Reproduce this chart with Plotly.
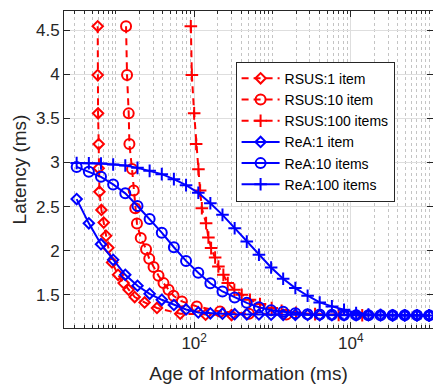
import plotly.graph_objects as go

# Age of Information grid shared by the ReA curves (ms)
aoi_rea = [3.16, 4.52, 6.46, 9.24, 13.2, 18.9, 27.0, 38.6, 55.1, 78.8,
           113, 161, 230, 329, 470, 672, 961, 1370, 1960, 2810,
           4010, 5740, 8200, 11700, 16800, 24000, 34200, 48900, 70000, 100000]

rea_1 = [2.585, 2.31, 2.073, 1.896, 1.726, 1.602, 1.511, 1.443, 1.384, 1.333,
         1.30, 1.29, 1.285, 1.28, 1.278, 1.276, 1.274, 1.273, 1.272, 1.271,
         1.27, 1.27, 1.269, 1.269, 1.268, 1.268, 1.267, 1.267, 1.267, 1.266]
rea_10 = [2.95, 2.894, 2.837, 2.751, 2.65, 2.506, 2.359, 2.204, 2.039, 1.884,
          1.749, 1.63, 1.537, 1.468, 1.408, 1.359, 1.324, 1.306, 1.29, 1.28,
          1.275, 1.272, 1.27, 1.269, 1.268, 1.268, 1.267, 1.267, 1.267, 1.266]
rea_100 = [2.995, 2.992, 2.989, 2.977, 2.966, 2.939, 2.905, 2.868, 2.811, 2.743,
           2.656, 2.538, 2.406, 2.255, 2.103, 1.953, 1.809, 1.681, 1.576, 1.489,
           1.413, 1.368, 1.33, 1.293, 1.276, 1.27, 1.268, 1.267, 1.267, 1.266]

# RSUS curves: (AoI, latency) pairs
rsus_1_x = [5.87, 5.87, 5.93, 6.04, 6.04, 6.17, 6.54, 7.0, 7.5, 8.02,
            8.95, 10.67, 12.57, 14.55, 17.4, 23.3, 33.5, 66.4, 140, 300]
rsus_1_y = [4.545, 3.991, 3.557, 3.209, 2.934, 2.669, 2.462, 2.319, 2.168, 2.032,
            1.866, 1.726, 1.632, 1.557, 1.474, 1.413, 1.35, 1.285, 1.274, 1.27]

rsus_10_x = [13.5, 13.9, 14.6, 14.9, 16.1, 16.9, 17.7, 18.6, 20.8, 24.3,
             26.7, 30.3, 35.1, 40.6, 47.1, 54.5, 69.7, 108, 214, 500, 1500]
rsus_10_y = [4.545, 3.991, 3.557, 3.209, 2.926, 2.683, 2.482, 2.309, 2.145, 2.017,
             1.908, 1.814, 1.715, 1.632, 1.557, 1.489, 1.424, 1.368, 1.31, 1.285, 1.275]

rsus_100_x = [90.7, 93.5, 100, 106, 113.4, 119.2, 125.4, 142.1, 152, 164.7,
              185.3, 204, 236, 268.7, 326, 405, 516, 693, 977, 1309,
              2000, 3500, 7000, 14000]
rsus_100_y = [4.545, 3.991, 3.557, 3.209, 2.923, 2.681, 2.481, 2.312, 2.149, 2.029,
              1.922, 1.82, 1.726, 1.632, 1.557, 1.5, 1.443, 1.395, 1.349, 1.319,
              1.295, 1.28, 1.272, 1.268]

names = ["RSUS:1 item", "RSUS:10 item", "RSUS:100 items",
         "ReA:1 item", "ReA:10 items", "ReA:100 items"]

RED = "#ff0000"
BLUE = "#0000ff"
AXIS = "#262626"
FONT = "Liberation Sans, Arial, Helvetica, sans-serif"

fig = go.Figure()

red_series = [(rsus_1_x, rsus_1_y, "diamond-open", 8),
              (rsus_10_x, rsus_10_y, "circle-open", 10),
              (rsus_100_x, rsus_100_y, "cross-thin-open", 9)]
for (xs, ys, sym, sz), nm in zip(red_series, names[:3]):
    fig.add_trace(go.Scatter(
        x=xs, y=ys, name=nm, mode="lines+markers",
        line=dict(color=RED, width=2, dash="7px,5px"),
        marker=dict(symbol=sym, size=sz, color=RED, line=dict(color=RED, width=2)),
    ))

blue_series = [(rea_1, "diamond-open", 8),
               (rea_10, "circle-open", 10),
               (rea_100, "cross-thin-open", 9)]
for (ys, sym, sz), nm in zip(blue_series, names[3:]):
    fig.add_trace(go.Scatter(
        x=aoi_rea, y=ys, name=nm, mode="lines+markers",
        line=dict(color=BLUE, width=2),
        marker=dict(symbol=sym, size=sz, color=BLUE, line=dict(color=BLUE, width=2)),
    ))

# minor ticks / dotted grid at 2..9 of each decade and unlabeled decades
minor_vals = []
for e in range(0, 6):
    for m in range(1, 10):
        v = m * 10 ** e
        if v in (100, 10000):
            continue
        minor_vals.append(v)

# invisible trace so the right-hand tick axis is drawn
fig.add_trace(go.Scatter(x=[100], y=[2], yaxis="y2", showlegend=False,
                         mode="markers", marker=dict(opacity=0), hoverinfo="skip"))

fig.update_layout(
    width=433, height=386,
    margin=dict(l=64, r=0, t=11, b=58),
    paper_bgcolor="white", plot_bgcolor="white",
    font=dict(family=FONT, color=AXIS, size=17),
    showlegend=True,
    legend=dict(
        x=0.465, y=0.84, xanchor="left", yanchor="top",
        bgcolor="white", bordercolor=AXIS, borderwidth=1,
        font=dict(family=FONT, size=14, color="#000000"),
        itemwidth=38, tracegroupgap=0,
    ),
    xaxis=dict(
        type="log", range=[0.338, 5.05],
        tickmode="array", tickvals=[100, 10000],
        ticktext=["10<sup>2</sup>", "10<sup>4</sup>"],
        ticks="inside", ticklen=6, tickwidth=1, tickcolor=AXIS,
        showline=True, linecolor=AXIS, linewidth=1, mirror="ticks",
        showgrid=True, gridcolor="#dedede", gridwidth=1,
        zeroline=False,
        minor=dict(tickmode="array", tickvals=minor_vals, ticks="inside",
                   ticklen=3, tickcolor=AXIS, showgrid=True,
                   gridcolor="#c4c4c4", griddash="dot", gridwidth=1),
        title=dict(text="Age of Information (ms)", font=dict(size=19, color=AXIS),
                   standoff=14),
        tickfont=dict(size=17, color=AXIS),
    ),
    yaxis=dict(
        range=[1.123, 4.718],
        tickmode="array", tickvals=[1.5, 2, 2.5, 3, 3.5, 4, 4.5],
        ticktext=["1.5", "2", "2.5", "3", "3.5", "4", "4.5"],
        ticks="inside", ticklen=6, tickwidth=1, tickcolor=AXIS,
        showline=True, linecolor=AXIS, linewidth=1, mirror=False,
        showgrid=True, gridcolor="#dedede", gridwidth=1,
        zeroline=False,
        title=dict(text="Latency (ms)", font=dict(size=19, color=AXIS), standoff=4),
        tickfont=dict(size=17, color=AXIS),
    ),
    yaxis2=dict(
        overlaying="y", side="right", matches="y",
        tickmode="array", tickvals=[1.5, 2, 2.5, 3, 3.5, 4, 4.5],
        ticks="inside", ticklen=6, tickcolor=AXIS,
        showticklabels=False, showline=False, showgrid=False, zeroline=False,
    ),
)

fig.write_html("out.html")
